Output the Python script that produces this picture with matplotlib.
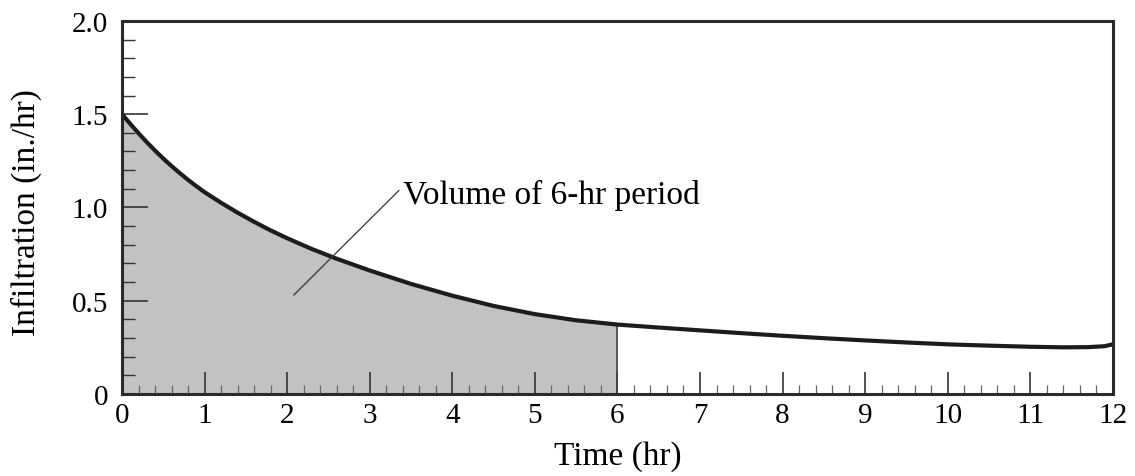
import matplotlib.pyplot as plt
import numpy as np
from matplotlib.ticker import MultipleLocator, FixedLocator

plt.rcParams['font.family'] = ['Liberation Serif', 'DejaVu Serif']

# infiltration curve
time_hr = [0, 0.1, 0.2, 0.3, 0.4, 0.5, 0.6, 0.7, 0.8, 0.9, 1.0, 1.2, 1.4, 1.6,
           1.8, 2.0, 2.3, 2.6, 3.0, 3.5, 4.0, 4.5, 5.0, 5.5, 6.0,
           6.5, 7, 7.5, 8, 8.5, 9, 9.5, 10, 10.5, 11, 11.4, 11.7, 11.9, 12]
infil = [1.50, 1.448, 1.398, 1.350, 1.305, 1.262, 1.222, 1.184, 1.148, 1.114,
         1.082, 1.025, 0.972, 0.923, 0.877, 0.835, 0.777, 0.725, 0.662, 0.59,
         0.527, 0.472, 0.428, 0.395, 0.372, 0.356, 0.341, 0.326, 0.312, 0.299,
         0.287, 0.276, 0.266, 0.259, 0.253, 0.25, 0.251, 0.256, 0.266]
period_end = 6
y_ticks = [0, 0.5, 1.0, 1.5, 2.0]
y_tick_labels = ['0', '0.5', '1.0', '1.5', '2.0']

t = np.array(time_hr)
f = np.array(infil)

fig = plt.figure(figsize=(11.35, 4.77), dpi=100)
ax = fig.add_axes([0.1075, 0.172, 0.873, 0.782])

mask = t <= period_end
ax.fill_between(t[mask], 0, f[mask], color='#c2c2c2', lw=0)
f6 = np.interp(period_end, t, f)
ax.plot([period_end, period_end], [0, f6], color='#444444', lw=1.2)
ax.plot(t, f, color='#1c1c1c', lw=3.0, solid_capstyle='butt',
        solid_joinstyle='round')

ax.annotate('Volume of 6-hr period', xy=(2.08, 0.53), xytext=(3.4, 1.07),
            ha='left', va='center', fontsize=24,
            arrowprops=dict(arrowstyle='-', lw=0.9, color='#333333',
                            shrinkA=1, shrinkB=0, relpos=(0, 0.75)))

ax.set_xlim(0, 12)
ax.set_ylim(0, 2.0)
ax.xaxis.set_major_locator(MultipleLocator(1))
ax.xaxis.set_minor_locator(MultipleLocator(0.2))
ax.yaxis.set_major_locator(FixedLocator(y_ticks))
ax.set_yticklabels(y_tick_labels)
ax.yaxis.set_minor_locator(MultipleLocator(0.1))

ax.tick_params(axis='x', which='major', direction='in', length=16, width=1.2,
               color='#333333', labelsize=21, pad=6)
ax.tick_params(axis='x', which='minor', direction='in', length=6.5, width=0.9,
               color='#666666')
ax.tick_params(axis='y', which='major', direction='in', length=19, width=1.2,
               color='#333333', labelsize=21, pad=10)
ax.tick_params(axis='y', which='minor', direction='in', length=9, width=1.0,
               color='#333333')
ax.tick_params(top=False, right=False, which='both')

for s in ax.spines.values():
    s.set_linewidth(2.2)
    s.set_color('#2a2a2a')

ax.set_xlabel('Time (hr)', fontsize=24)
ax.set_ylabel('Infiltration (in./hr)', fontsize=24)
ax.xaxis.set_label_coords(0.5, -0.125)
ax.yaxis.set_label_coords(-0.081, 0.49)
ax.xaxis.label.set_va('top')

fig.savefig('out.png', dpi=100)
